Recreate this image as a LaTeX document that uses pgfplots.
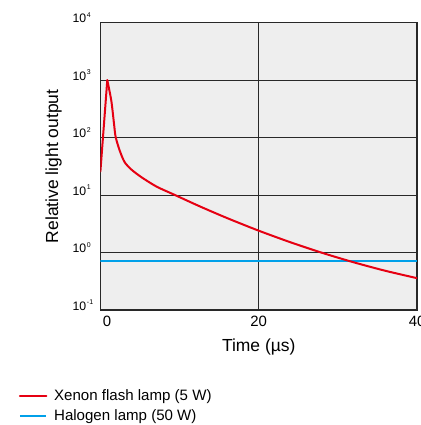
\documentclass[border=0pt]{standalone}
\usepackage{pgfplots}
\pgfplotsset{compat=1.18}
\usepackage{fontspec}
\setmainfont{Liberation Sans}
\usetikzlibrary{calc}
\definecolor{bg}{RGB}{238,238,238}
\definecolor{xred}{RGB}{230,0,18}
\definecolor{hblue}{RGB}{0,160,233}
\definecolor{gridc}{RGB}{40,40,40}
\newcommand{\tp}[1]{10\hspace{0.6pt}\raisebox{4pt}{\fontsize{5.2}{6}\selectfont #1}}
\begin{document}
\begin{tikzpicture}
\begin{axis}[
  scale only axis,
  width=237.5pt, height=215.5pt,
  ymode=log,
  xmin=0, xmax=40, ymin=0.1, ymax=10000,
  axis background/.style={fill=bg},
  axis line style={line width=1pt, draw=gridc},
  xtick={0,20,40},
  xticklabels={\hspace*{10pt}0,20,40},
  ytick={0.1,1,10,100,1000,10000},
  yticklabels={\tp{-1},\tp{0},\tp{1},\tp{2},\tp{3},\tp{4}},
  minor ytick={},
  yminorticks=false,
  major tick length=0pt,
  grid=major,
  major grid style={line width=0.7pt, draw=gridc},
  xticklabel style={font=\fontsize{11.2}{13}\selectfont, anchor=center, yshift=-8.8pt, inner sep=0pt},
  yticklabel style={font=\fontsize{9.2}{11}\selectfont, anchor=base west, inner sep=0pt, xshift=-21.1pt},
  xlabel={Time (µs)},
  ylabel={Relative light output},
  xlabel style={font=\fontsize{13.1}{15}\selectfont, at={(axis description cs:0.5,-0.1276)}, anchor=center},
  ylabel style={font=\fontsize{13.1}{15}\selectfont, at={(axis description cs:-0.1475,0.5)}, anchor=center, rotate=0},
  legend style={at={(axis description cs:-0.2585,-0.268)}, anchor=north west, draw=none, fill=none, inner sep=0pt,
    font=\fontsize{11.3}{13}\selectfont, row sep=1.2pt,
    /tikz/every odd column/.append style={column sep=3pt}},
  legend cell align=left,
  legend image code/.code={\draw[#1] (0pt,0pt) -- (20pt,0pt);},
  clip=true,
]
\addplot[color=xred, line width=1.5pt, line join=round, line cap=round] coordinates {
(0,25.7) (0.87,1000)
};
\addlegendentry{Xenon flash lamp (5 W)}
\addplot[color=hblue, line width=1.5pt] coordinates {(0,0.714) (40,0.714)};
\addlegendentry{Halogen lamp (50 W)}
\addplot[color=xred, line width=1.5pt, line join=round, line cap=round, smooth, tension=0.45, forget plot] coordinates {
(0.87,1000) (1.38,437) (1.72,174) (1.93,102) (2.45,58.9) (3.05,37.6) (3.9,27.9) (5.2,20.4) (7.11,14.0) (9.43,10) (12.5,6.41) (16,3.98) (20,2.40) (24,1.51) (28,0.989) (32,0.676) (36,0.481) (40,0.358)
};
\end{axis}
\pgfresetboundingbox
\useasboundingbox ($(current axis.south west)+(-75.3pt,-86.25pt)$) rectangle ($(current axis.north east)+(2.25pt,17pt)$);
\end{tikzpicture}
\end{document}
